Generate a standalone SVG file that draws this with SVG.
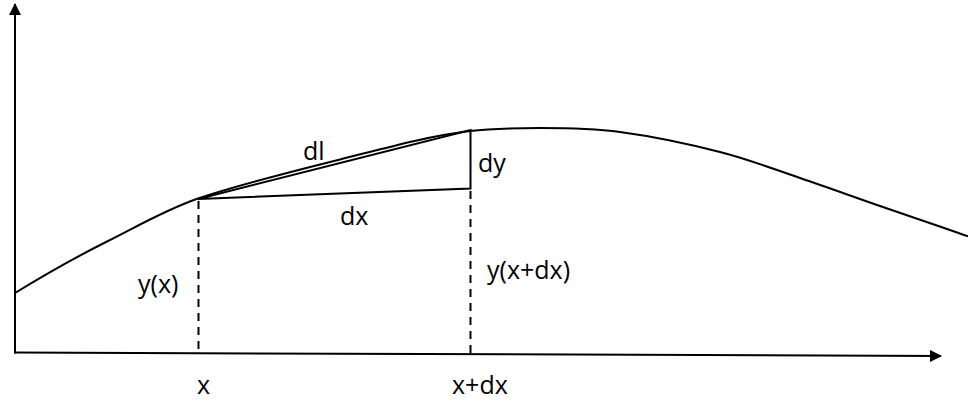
<svg xmlns="http://www.w3.org/2000/svg" width="968" height="402" viewBox="0 0 968 402">
  <style>
    .ln { fill: none; stroke: #000; stroke-width: 2; stroke-linejoin: miter; }
    .dash { fill: none; stroke: #000; stroke-width: 2; stroke-dasharray: 8 6; }
    .lbl { font-family: "Open Sans", "Liberation Sans", sans-serif; font-size: 25px; fill: #000; }
  </style>
  <defs>
    <marker id="arrow" viewBox="0 0 12 12" markerWidth="12" markerHeight="12" refX="11" refY="6" markerUnits="userSpaceOnUse" orient="auto">
      <path d="M0,0 L12,6 L0,12 Z" fill="#000"/>
    </marker>
  </defs>
  <rect width="968" height="402" fill="#fff"/>

  <g id="axes">
    <line class="ln" x1="15" y1="353.5" x2="15" y2="4" marker-end="url(#arrow)"/>
    <line class="ln" x1="14" y1="352.5" x2="941" y2="356" marker-end="url(#arrow)"/>
  </g>

  <g id="curve">
    <path class="ln" d="M15,293 C46,274 78,256 108,241 C138,226 165,210 198,198.5 C235,186 288,172.5 334,161 C379,149.8 425,136.4 470,131 C493,128.2 517,128 540,128 C567,128 593.3,128.4 620,132 C650,136 690,144.3 720,152 C750,159.7 773.3,169 800,178 C826.7,187 852,196.3 880,206 C908,215.7 939,226 970,237"/>
  </g>

  <g id="triangle">
    <path class="ln" d="M198,199 L470.5,130 L470.5,188.5 Z"/>
  </g>

  <g id="dashed">
    <line class="dash" x1="198.5" y1="201" x2="198.5" y2="352"/>
    <line class="dash" x1="470.5" y1="191" x2="470.5" y2="354"/>
  </g>

  <g id="labels">
    <text class="lbl" x="303" y="160">dl</text>
    <text class="lbl" x="478" y="172">dy</text>
    <text class="lbl" x="340" y="225">dx</text>
    <text class="lbl" x="138" y="293">y(x)</text>
    <text class="lbl" x="487" y="279">y(x+dx)</text>
    <text class="lbl" x="197" y="394">x</text>
    <text class="lbl" x="452" y="394">x+dx</text>
  </g>
</svg>
